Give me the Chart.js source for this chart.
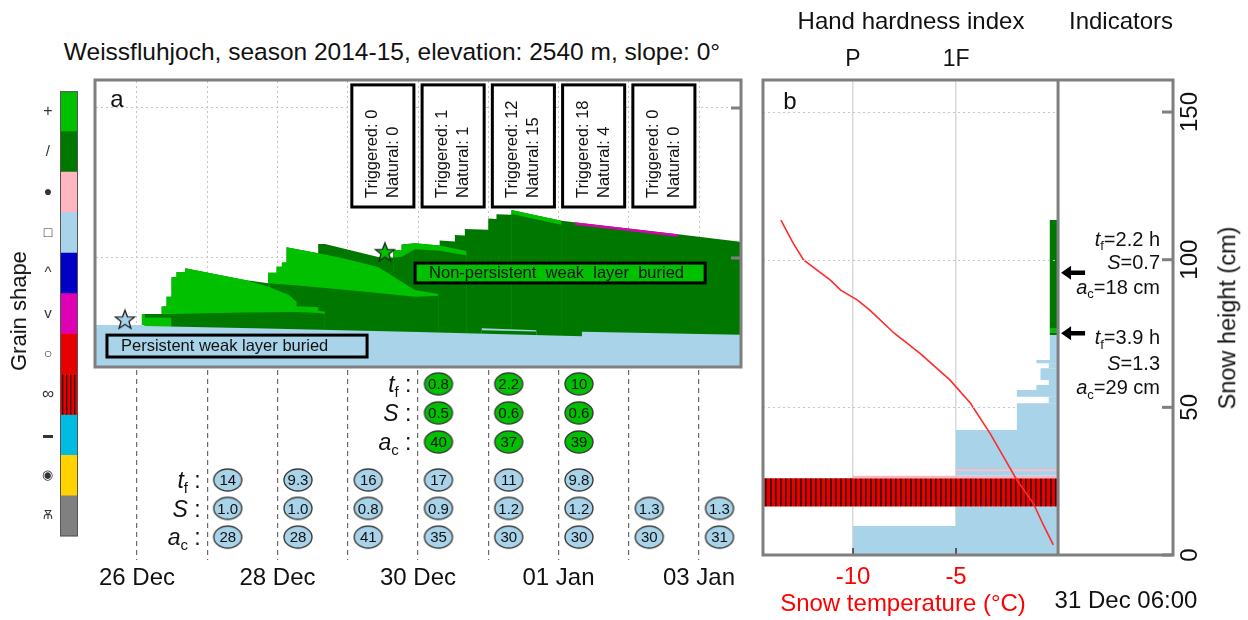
<!DOCTYPE html>
<html>
<head>
<meta charset="utf-8">
<title>Weissfluhjoch 2014-15 snow profile</title>
<script src="https://cdn.jsdelivr.net/npm/chart.js@4.4.1/dist/chart.umd.min.js"></script>
<style>
  html, body { margin: 0; padding: 0; background: #fff; }
  body { width: 1248px; height: 620px; position: relative; overflow: hidden;
         font-family: "Liberation Sans", Arial, Helvetica, sans-serif; color: #111; }
  canvas { position: absolute; }
  .lbl { position: absolute; white-space: nowrap; line-height: 1; }
</style>
</head>
<body>
<canvas id="legend"  width="50"  height="474" style="left:30px;top:78px;width:50px;height:474px"></canvas>
<canvas id="profile" width="650" height="291" style="left:93px;top:78px;width:650px;height:291px"></canvas>
<canvas id="tests"   width="650" height="240" style="left:93px;top:370px;width:650px;height:240px"></canvas>
<canvas id="pit"     width="508" height="570" style="left:740px;top:30px;width:508px;height:570px"></canvas>
<div id="labels"></div>
<script>
// ---------------------------------------------------------------- data
// time is given in hours since 26 Dec 2014 00:00, heights in cm
const dayLabels    = ['26 Dec', '27 Dec', '28 Dec', '29 Dec', '30 Dec', '31 Dec', '01 Jan', '02 Jan', '03 Jan'];
const labelledDays = [0, 2, 4, 6, 8];

// grain shape legend (top to bottom)
const grainCodes   = ['PP', 'DF', 'RG', 'FC', 'DH', 'SH', 'MF', 'MFcr', 'IF', 'MM', 'PPgp'];
const grainSymbols = ['+', '/', '●', '□', '^', 'v', '○', '∞', '▬', '◉', 'Ѫ'];

// simulated seasonal profile: upper boundary of each coloured region
const fcBaseTop    = [[-14, 77.7], [2.5, 77.7], [2.5, 77.3], [40, 76.6], [96, 75.3], [152, 73.9], [152, 75.4], [206, 74.4]];
const fcLensTop    = [[117.7, 76.6], [136.5, 75.9]];
const fcLensBottom = [[117.7, 75.9], [136.5, 75.5]];
const ppFirstTop   = [[1.6, 81.3], [2.7, 81.3], [2.7, 80.2], [11.8, 80.1]];
const dfFirstTop   = [[8.4, 81.3], [11.8, 81.3], [24, 81.6], [36.9, 81.8], [54.5, 82.0], [61.9, 81.7], [64.2, 81.4]];
const ppSecondTop  = [[8.4, 83.8], [10.1, 83.8], [10.1, 87.1], [11.8, 87.1], [11.8, 93.6], [13.5, 93.6], [13.5, 95.3],
                      [16.5, 95.3], [16.5, 96.6], [36.9, 92.7], [44.8, 90.5], [52, 87.6], [54.5, 85.4], [54.5, 83.9],
                      [61.9, 83.6], [61.9, 82.4], [64.2, 82.1]];
const dfSecondTop  = [[44.8, 91.6], [55, 90.8], [70, 89.5], [82.4, 88.3], [94.9, 87.1], [103, 87.4]];
const ppThirdTop   = [[44.8, 95.1], [47.7, 95.1], [47.7, 97.1], [49.5, 97.1], [49.5, 98.5], [51.1, 98.5], [51.1, 103.6],
                      [61.9, 101.6], [70, 100], [82.4, 97], [94.9, 89.3], [103, 88.0]];
const dfThirdTop   = [[87.5, 100.1], [90.4, 100.4], [95, 102.9], [103.4, 102.4], [112.6, 100.8]];
const ppFourthTop  = [[87.5, 102.7], [90.4, 102.5], [90.4, 104.5], [95, 104.9], [103.4, 104.2], [112.6, 102.3]];
const dfFourthTop  = [[127.9, 114.7], [145, 111.1]];
const ppFifthTop   = [[127.9, 116.0], [145, 112.4]];
const snowSurface  = [[1.6, 81.3], [8.4, 81.3], [8.4, 83.8], [10.1, 83.8], [10.1, 87.1], [11.8, 87.1], [11.8, 93.6],
                      [13.5, 93.6], [13.5, 95.3], [16.5, 95.3], [16.5, 96.6], [36.9, 92.7], [44.8, 91.6], [44.8, 95.1],
                      [47.7, 95.1], [47.7, 97.1], [49.5, 97.1], [49.5, 98.5], [51.1, 98.5], [51.1, 103.6], [61.9, 101.6],
                      [61.9, 104.7], [64.2, 104.7], [82.4, 100.3], [87.5, 100.1], [87.5, 102.7], [90.4, 102.5],
                      [90.4, 104.5], [95, 104.9], [103.4, 104.2], [103.4, 105.8], [108.6, 105.5], [108.6, 107.7],
                      [112, 107.5], [112, 109.7], [120, 109.4], [120, 113.2], [122.8, 113.0], [122.8, 114.6],
                      [127.9, 114.4], [127.9, 116.0], [145, 112.4], [184.8, 107.9], [206, 105.4]];
const shSurfaceLine = [[149.5, 111.5], [184.8, 107.5]];

// burial of the weak layers (stars)
const burialTimes   = [-4.1, 84.7];
const burialHeights = [79.6, 102.1];

// observed avalanches per day
const avalancheDays  = [3, 4, 5, 6, 7];
const triggeredCount = [0, 1, 12, 18, 0];
const naturalCount   = [0, 1, 15, 4, 0];

// stability indicators per day (27 Dec ... 03 Jan)
const obsDays = [1, 2, 3, 4, 5, 6, 7, 8];
const pwlTf  = [14, 9.3, 16, 17, 11, 9.8, null, null];
const pwlS   = [1.0, 1.0, 0.8, 0.9, 1.2, 1.2, 1.3, 1.3];
const pwlAc  = [28, 28, 41, 35, 30, 30, 30, 31];
const npwlTf = [null, null, null, 0.8, 2.2, 10, null, null];
const npwlS  = [null, null, null, 0.5, 0.6, 0.6, null, null];
const npwlAc = [null, null, null, 40, 37, 39, null, null];

// profile on 31 Dec 06:00
const layerBottom   = [0, 9.8, 16.4, 26.0, 26.8, 28.5, 29.1, 42.3, 51.4, 53.6, 55.9, 57.6, 59.3, 63.2, 64.9, 66.0, 74.5, 75.4, 76.6];
const layerTop      = [9.8, 16.4, 26.0, 26.8, 28.5, 29.1, 42.3, 51.4, 53.6, 55.9, 57.6, 59.3, 63.2, 64.9, 66.0, 74.5, 75.4, 76.6, 113.4];
const layerHardness = [2.0, 1.0, 3.0, 2.0, 1.0, 1.0, 1.0, 0.41, 0.1, 0.41, 0.22, 0.1, 0.18, 0.1, 0.22, 0.09, 0.09, 0.09, 0.09];
const layerGrain    = ['FC', 'FC', 'MFcr', 'RG', 'FC', 'RG', 'FC', 'FC', 'FC', 'FC', 'FC', 'FC', 'FC', 'FC', 'FC', 'FC', 'DF', 'PP', 'DF'];
const tempHeights = [113.4, 105.5, 99.9, 93.1, 89.7, 86.4, 83.0, 75.1, 68.3, 59.3, 51.4, 41.2, 33.3, 25.4, 17.6, 10.0, 3.4];
const tempValues  = [-13.5, -12.9, -12.4, -11.1, -10.6, -9.8, -9.2, -8.0, -6.75, -5.3, -4.3, -3.35, -2.7, -2.05, -1.26, -0.75, -0.28];
const tempTicks = [-10, -5];
const hardnessTickValues = [2, 1];
const hardnessTickLabels = ['P', '1F'];
const heightTicks = [0, 50, 100, 150];

// indicators of the two weak layers in the profile
const indicatorHeights = [95.6, 75.1];
const indicatorTf = [2.2, 3.9];
const indicatorS  = [0.7, 1.3];
const indicatorAc = [18, 29];

// ---------------------------------------------------------------- style
const FONT = '"Liberation Sans", Arial, Helvetica, sans-serif';
const COLORS = {
  PP: '#00c000', DF: '#007800', RG: '#ffb6c1', FC: '#a8d3e9', DH: '#0000c4',
  SH: '#e000b4', MF: '#e80000', IF: '#00bce2', MM: '#ffd200', PPgp: '#808080'
};
const FRAME = '#7f7f7f';
const H_MIN = -14, H_MAX = 206;        // visible time window (h)
const OBS_OFFSET_H = 7;                // indicator circles sit just right of midnight
const AV_BOX = { width: 21.2, top: 157.7, bottom: 117 };
const WEAK_LABELS = [
  { text: 'Persistent weak layer buried', h0: -10.25, h1: 78.6, z0: 67.0, z1: 74.3, fill: COLORS.FC },
  { text: 'Non-persistent  weak  layer  buried', h0: 95.0, h1: 194.1, z0: 91.7, z1: 98.3, fill: COLORS.PP }
];
const ROWS = { npwlTf: 0.48, npwlS: 1.48, npwlAc: 2.48, pwlTf: 3.79, pwlS: 4.77, pwlAc: 5.76 };
const INDICATOR_LINE_OFFSETS = [[-34, -11, 14], [4, 30, 54]];
const SYMBOL_SIZES = [16, 15, 14, 14, 15, 15, 14, 17, 10, 13, 12];

Chart.defaults.font.family = FONT;
Chart.defaults.color = '#111';
Chart.defaults.animation = false;
Chart.defaults.events = [];
Chart.defaults.layout.autoPadding = false;
Chart.defaults.plugins.legend.display = false;
Chart.defaults.plugins.tooltip.enabled = false;

function stripes(ctx, period, width) {
  const c = document.createElement('canvas');
  c.width = period; c.height = 4;
  const g = c.getContext('2d');
  g.fillStyle = COLORS.MF; g.fillRect(0, 0, period, 4);
  g.fillStyle = '#300000'; g.fillRect(0, 0, width, 4);
  return ctx.createPattern(c, 'repeat');
}
function ellipseImg(fill) {
  const c = document.createElement('canvas'); c.width = 32; c.height = 26;
  const g = c.getContext('2d');
  g.beginPath(); g.ellipse(16, 13, 14, 11, 0, 0, Math.PI * 2);
  g.fillStyle = fill; g.fill();
  g.lineWidth = 1.4; g.strokeStyle = '#3a3a3a'; g.stroke();
  return c;
}
function starImg(fill) {
  const c = document.createElement('canvas'); c.width = 24; c.height = 22;
  const g = c.getContext('2d');
  g.beginPath();
  for (let k = 0; k < 10; k++) {
    const a = -Math.PI / 2 + k * Math.PI / 5, r = k % 2 ? 4.2 : 10;
    g.lineTo(12 + r * Math.cos(a), 12 + r * Math.sin(a));
  }
  g.closePath(); g.fillStyle = fill; g.fill();
  g.lineWidth = 1.3; g.strokeStyle = '#222'; g.stroke();
  return c;
}
function drawRich(ctx, segs, xRight, yMid, size) {
  const fonts = segs.map(s => (s.italic ? 'italic ' : '') + (s.sub ? Math.round(size * 0.64) : size) + 'px ' + FONT);
  const widths = segs.map((s, i) => { ctx.font = fonts[i]; return ctx.measureText(s.text).width; });
  let x = xRight - widths.reduce((a, b) => a + b, 0);
  ctx.textAlign = 'left'; ctx.textBaseline = 'alphabetic';
  const base = yMid + size * 0.36;
  segs.forEach((s, i) => { ctx.font = fonts[i]; ctx.fillText(s.text, x, base + (s.sub ? size * 0.22 : 0)); x += widths[i]; });
}
const pts = arr => arr.map(([x, y]) => ({ x, y }));
const band = (arr, color) => ({ data: pts(arr), fill: 'start', backgroundColor: color, borderColor: color, borderWidth: 0, pointRadius: 0 });

// ---------------------------------------------------------------- grain shape legend
const legendCanvas = document.getElementById('legend');
const legendCrust = stripes(legendCanvas.getContext('2d'), 4, 1.3);
new Chart(legendCanvas, {
  type: 'bar',
  data: {
    labels: grainSymbols,
    datasets: [{
      data: grainCodes.map(() => 1),
      backgroundColor: grainCodes.map(c => c === 'MFcr' ? legendCrust : COLORS[c]),
      borderWidth: 0, barPercentage: 1, categoryPercentage: 1
    }]
  },
  options: {
    responsive: false, indexAxis: 'y',
    layout: { padding: { right: 2, top: 0, bottom: 0, left: 0 } },
    scales: {
      x: { display: false, min: 0, max: 1 },
      y: {
        grid: { display: false, drawTicks: false }, border: { display: false },
        ticks: { color: '#333', font: c => ({ size: SYMBOL_SIZES[c.index] }), padding: 6, crossAlign: 'center', autoSkip: false },
        afterFit: s => { s.width = 30; }
      }
    }
  },
  plugins: [{
    id: 'legendFrame',
    afterDraw(chart) {
      const { ctx, chartArea: a } = chart;
      ctx.save(); ctx.strokeStyle = '#555'; ctx.lineWidth = 1;
      ctx.strokeRect(a.left + 0.5, a.top + 0.5, a.right - a.left - 1, a.bottom - a.top - 1);
      ctx.restore();
    }
  }]
});

// ---------------------------------------------------------------- panel a: seasonal profile
const dayTicks = () => dayLabels.map((_, d) => ({ value: d * 24 }));
new Chart(document.getElementById('profile'), {
  type: 'line',
  data: {
    datasets: [
      { data: burialTimes.map((t, i) => ({ x: t, y: burialHeights[i] })), showLine: false,
        pointStyle: [starImg(COLORS.FC), starImg(COLORS.PP)], pointRadius: 9 },
      { data: pts(shSurfaceLine), borderColor: COLORS.SH, borderWidth: 2.5, pointRadius: 0, fill: false },
      band(fcBaseTop, COLORS.FC),
      band(fcLensBottom, COLORS.DF),
      band(fcLensTop, COLORS.FC),
      band(ppFirstTop, COLORS.PP),
      band(dfFirstTop, COLORS.DF),
      band(ppSecondTop, COLORS.PP),
      band(dfSecondTop, COLORS.DF),
      band(ppThirdTop, COLORS.PP),
      band(dfThirdTop, COLORS.DF),
      band(ppFourthTop, COLORS.PP),
      band(dfFourthTop, COLORS.DF),
      band(ppFifthTop, COLORS.PP),
      band(snowSurface, COLORS.DF)
    ]
  },
  options: {
    responsive: false,
    layout: { padding: { left: 3, right: 3, top: 3, bottom: 3 } },
    scales: {
      x: { type: 'linear', min: H_MIN, max: H_MAX, z: 1,
           afterBuildTicks: s => { s.ticks = dayTicks(); },
           ticks: { display: false }, grid: { color: '#c4c4c4', lineWidth: 1, drawTicks: false },
           border: { display: false, dash: [2, 3] }, afterFit: s => { s.height = 0; } },
      y: { type: 'linear', min: 64, max: 159, z: 1,
           afterBuildTicks: s => { s.ticks = [{ value: 100 }, { value: 150 }]; },
           ticks: { display: false }, grid: { color: '#c4c4c4', lineWidth: 1, drawTicks: false },
           border: { display: false, dash: [2, 3] }, afterFit: s => { s.width = 0; } }
    }
  },
  plugins: [{
    id: 'profileAnnotations',
    afterDraw(chart) {
      const { ctx, chartArea: a, scales: { x, y } } = chart;
      ctx.save();
      // daily avalanche counts
      const w = x.getPixelForValue(AV_BOX.width) - x.getPixelForValue(0);
      const top = y.getPixelForValue(AV_BOX.top), bot = y.getPixelForValue(AV_BOX.bottom);
      avalancheDays.forEach((d, i) => {
        const cx = x.getPixelForValue(d * 24 + 12);
        ctx.fillStyle = '#fff'; ctx.fillRect(cx - w / 2, top, w, bot - top);
        ctx.lineWidth = 3; ctx.strokeStyle = '#000'; ctx.strokeRect(cx - w / 2, top, w, bot - top);
        ctx.save(); ctx.translate(cx, bot - 9); ctx.rotate(-Math.PI / 2);
        ctx.fillStyle = '#111'; ctx.font = '16.5px ' + FONT; ctx.textAlign = 'left'; ctx.textBaseline = 'middle';
        ctx.fillText('Triggered: ' + triggeredCount[i], 0, -10.5);
        ctx.fillText('Natural: ' + naturalCount[i], 0, 10.5);
        ctx.restore();
      });
      // burial labels
      WEAK_LABELS.forEach(L => {
        const x0 = x.getPixelForValue(L.h0), x1 = x.getPixelForValue(L.h1);
        const y0 = y.getPixelForValue(L.z1), y1 = y.getPixelForValue(L.z0);
        ctx.fillStyle = L.fill; ctx.fillRect(x0, y0, x1 - x0, y1 - y0);
        ctx.lineWidth = 3; ctx.strokeStyle = '#000'; ctx.strokeRect(x0, y0, x1 - x0, y1 - y0);
        ctx.fillStyle = '#111'; ctx.font = '16.5px ' + FONT; ctx.textAlign = 'left'; ctx.textBaseline = 'middle';
        ctx.fillText(L.text, x0 + 14, (y0 + y1) / 2);
      });
      // inner tick marks on the height axis
      ctx.strokeStyle = FRAME; ctx.lineWidth = 3;
      [100, 150].forEach(v => {
        const py = y.getPixelForValue(v);
        ctx.beginPath(); ctx.moveTo(a.right - 9, py); ctx.lineTo(a.right, py); ctx.stroke();
      });
      // frame
      ctx.strokeRect(a.left - 1, a.top - 1, a.right - a.left + 2, a.bottom - a.top + 2);
      ctx.restore();
    }
  }]
});

// ---------------------------------------------------------------- stability indicators below panel a
const npwlCircle = ellipseImg(COLORS.PP), pwlCircle = ellipseImg(COLORS.FC);
function obsSet(values, row, img, fmt, label) {
  const data = [], text = [];
  values.forEach((v, i) => {
    if (v !== null) { data.push({ x: obsDays[i] * 24 + OBS_OFFSET_H, y: row }); text.push(fmt(v)); }
  });
  return { data, valueText: text, rowLabel: label, pointStyle: img, pointRadius: 12, showLine: false };
}
const plain = v => String(v), oneDec = v => v.toFixed(1);
const LBL_TF = [{ text: 't', italic: true }, { text: 'f', sub: true }, { text: ' :' }];
const LBL_S  = [{ text: 'S', italic: true }, { text: ' :' }];
const LBL_AC = [{ text: 'a', italic: true }, { text: 'c', sub: true }, { text: ' :' }];
new Chart(document.getElementById('tests'), {
  type: 'scatter',
  data: {
    datasets: [
      obsSet(npwlTf, ROWS.npwlTf, npwlCircle, plain, LBL_TF),
      obsSet(npwlS,  ROWS.npwlS,  npwlCircle, oneDec, LBL_S),
      obsSet(npwlAc, ROWS.npwlAc, npwlCircle, plain, LBL_AC),
      obsSet(pwlTf,  ROWS.pwlTf,  pwlCircle,  plain, LBL_TF),
      obsSet(pwlS,   ROWS.pwlS,   pwlCircle,  oneDec, LBL_S),
      obsSet(pwlAc,  ROWS.pwlAc,  pwlCircle,  plain, LBL_AC)
    ]
  },
  options: {
    responsive: false,
    layout: { padding: { left: 3, right: 3, top: 0, bottom: 0 } },
    scales: {
      x: { type: 'linear', min: H_MIN, max: H_MAX,
           afterBuildTicks: s => { s.ticks = dayTicks(); },
           ticks: { callback: v => labelledDays.includes(v / 24) ? dayLabels[v / 24] : '',
                    font: { size: 24 }, color: '#111', padding: 3.6, maxRotation: 0, autoSkip: false },
           grid: { color: '#6a6a6a', lineWidth: 1.2, drawTicks: false },
           border: { display: false, dash: [5, 4] },
           afterFit: s => { s.height = 50; } },
      y: { type: 'linear', display: false, reverse: true, min: 0, max: 6.55 }
    }
  },
  plugins: [{
    id: 'indicatorText',
    afterDatasetsDraw(chart) {
      const ctx = chart.ctx;
      ctx.save();
      chart.data.datasets.forEach((ds, di) => {
        const els = chart.getDatasetMeta(di).data;
        if (!els.length) return;
        ctx.fillStyle = '#111';
        ctx.font = '15px ' + FONT; ctx.textAlign = 'center'; ctx.textBaseline = 'middle';
        els.forEach((el, i) => ctx.fillText(ds.valueText[i], el.x, el.y + 1));
        drawRich(ctx, ds.rowLabel, els[0].x - 27, els[0].y, 23);
      });
      ctx.restore();
    }
  }]
});

// ---------------------------------------------------------------- panel b: profile on 31 Dec 06:00
const pitCanvas = document.getElementById('pit');
const pitCrust = stripes(pitCanvas.getContext('2d'), 5, 1.6);
const layerSets = layerBottom.map((b, i) => ({
  data: [{ x: layerHardness[i], y: b }, { x: layerHardness[i], y: layerTop[i] }, { x: 0, y: layerTop[i] }, { x: 0, y: b }],
  xAxisID: 'xh', yAxisID: 'y', fill: 'shape', borderWidth: 0, pointRadius: 0,
  backgroundColor: layerGrain[i] === 'MFcr' ? pitCrust : COLORS[layerGrain[i]]
}));
new Chart(pitCanvas, {
  type: 'line',
  data: {
    datasets: [
      { data: tempValues.map((t, i) => ({ x: t, y: tempHeights[i] })), xAxisID: 't', yAxisID: 'y',
        borderColor: '#ff2b2b', borderWidth: 1.6, pointRadius: 0, fill: false },
      ...layerSets.reverse()
    ]
  },
  options: {
    responsive: false,
    layout: { padding: { left: 23, right: 0, top: 0, bottom: 0 } },
    scales: {
      t: { axis: 'x', type: 'linear', position: 'bottom', min: -14.37, max: 5.53, z: 1,
           afterBuildTicks: s => { s.ticks = tempTicks.map(v => ({ value: v })); },
           ticks: { color: '#ff0000', font: { size: 24 }, padding: 7.6, callback: v => String(v) },
           grid: { color: '#d9d9d9', lineWidth: 1.5, drawTicks: false }, border: { display: false },
           afterFit: s => { s.height = 45; } },
      xh: { axis: 'x', type: 'linear', position: 'top', reverse: true, min: -1.106, max: 2.874,
            afterBuildTicks: s => { s.ticks = hardnessTickValues.map(v => ({ value: v })); },
            ticks: { color: '#111', font: { size: 23 }, padding: 6.2,
                     callback: v => hardnessTickLabels[hardnessTickValues.indexOf(v)] },
            grid: { display: false, drawTicks: false }, border: { display: false },
            afterFit: s => { s.height = 50; } },
      y: { type: 'linear', position: 'right', min: 0, max: 160.85,
           afterBuildTicks: s => { s.ticks = heightTicks.map(v => ({ value: v })); },
           ticks: { color: '#111', font: { size: 24 }, padding: -3, minRotation: 90, maxRotation: 90,
                    crossAlign: 'center', callback: v => String(v) },
           grid: { display: false, drawTicks: false }, border: { display: false },
           afterFit: s => { s.width = 75; } }
    }
  },
  plugins: [{
    id: 'pitAnnotations',
    afterDraw(chart) {
      const { ctx, chartArea: a, scales: { t, y } } = chart;
      const x0 = t.getPixelForValue(0);
      ctx.save();
      // horizontal grid, profile part only
      ctx.strokeStyle = '#c8c8c8'; ctx.lineWidth = 1; ctx.setLineDash([2, 3]);
      [50, 100, 150].forEach(v => {
        const py = Math.round(y.getPixelForValue(v)) + 0.5;
        ctx.beginPath(); ctx.moveTo(a.left, py); ctx.lineTo(x0, py); ctx.stroke();
      });
      ctx.setLineDash([]);
      // temperature tick marks
      ctx.strokeStyle = '#333'; ctx.lineWidth = 1.5;
      tempTicks.forEach(v => {
        const px = t.getPixelForValue(v);
        ctx.beginPath(); ctx.moveTo(px, a.bottom); ctx.lineTo(px, a.bottom - 7); ctx.stroke();
      });
      // frame, separator and height ticks
      ctx.strokeStyle = FRAME; ctx.lineWidth = 3;
      ctx.strokeRect(a.left, a.top, a.right - a.left, a.bottom - a.top);
      ctx.beginPath(); ctx.moveTo(x0 - 1, a.top); ctx.lineTo(x0 - 1, a.bottom); ctx.stroke();
      heightTicks.forEach(v => {
        const py = y.getPixelForValue(v);
        ctx.beginPath(); ctx.moveTo(a.right - 11, py); ctx.lineTo(a.right, py); ctx.stroke();
      });
      // weak layer arrows and indicators
      indicatorHeights.forEach((h, i) => {
        const py = y.getPixelForValue(h), tx = x0 + 2;
        ctx.fillStyle = '#000';
        ctx.beginPath();
        ctx.moveTo(tx, py); ctx.lineTo(tx + 10, py - 7); ctx.lineTo(tx + 10, py - 2.2);
        ctx.lineTo(tx + 24, py - 2.2); ctx.lineTo(tx + 24, py + 2.2); ctx.lineTo(tx + 10, py + 2.2);
        ctx.lineTo(tx + 10, py + 7); ctx.closePath(); ctx.fill();
        const off = INDICATOR_LINE_OFFSETS[i], xr = a.right - 13;
        ctx.fillStyle = '#111';
        drawRich(ctx, [{ text: 't', italic: true }, { text: 'f', sub: true }, { text: '=' + indicatorTf[i] + ' h' }], xr, py + off[0], 20);
        drawRich(ctx, [{ text: 'S', italic: true }, { text: '=' + indicatorS[i] }], xr, py + off[1], 20);
        drawRich(ctx, [{ text: 'a', italic: true }, { text: 'c', sub: true }, { text: '=' + indicatorAc[i] + ' cm' }], xr, py + off[2], 20);
      });
      ctx.restore();
    }
  }]
});

// ---------------------------------------------------------------- titles
const TEXTS = [
  { t: 'Weissfluhjoch, season 2014-15, elevation: 2540 m, slope: 0°', x: 392, y: 52, s: 24.5 },
  { t: 'Grain shape', x: 19, y: 311, s: 22, r: -90 },
  { t: 'a', x: 117, y: 99, s: 24 },
  { t: 'b', x: 790, y: 101, s: 24 },
  { t: 'Hand hardness index', x: 911, y: 21, s: 24 },
  { t: 'Indicators', x: 1121, y: 21, s: 24 },
  { t: 'Snow temperature (°C)', x: 903, y: 603, s: 24, c: '#ff0000' },
  { t: '31 Dec 06:00', x: 1126, y: 600, s: 24 },
  { t: 'Snow height (cm)', x: 1228, y: 318, s: 23.5, r: -90 }
];
const host = document.getElementById('labels');
TEXTS.forEach(o => {
  const d = document.createElement('div');
  d.className = 'lbl';
  d.textContent = o.t;
  d.style.left = o.x + 'px'; d.style.top = o.y + 'px';
  d.style.fontSize = o.s + 'px';
  d.style.color = o.c || '#111';
  d.style.transform = 'translate(-50%, -50%)' + (o.r ? ' rotate(' + o.r + 'deg)' : '');
  host.appendChild(d);
});
</script>
</body>
</html>
